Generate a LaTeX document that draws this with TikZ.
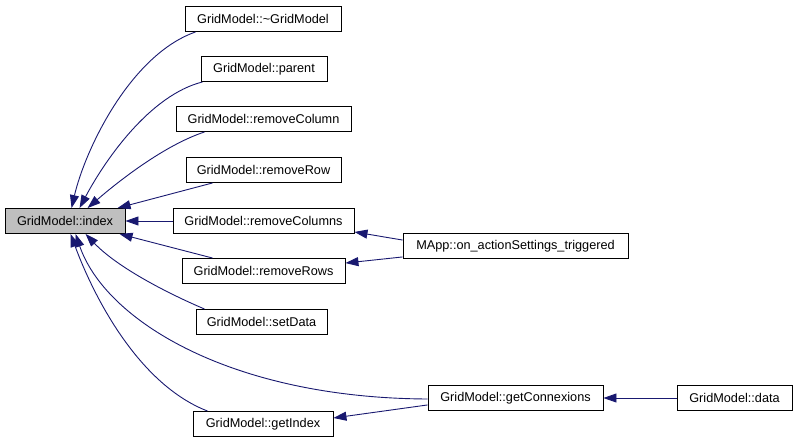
\documentclass[tikz,border=0pt]{standalone}
\usepackage{fontspec}
\setmainfont{Liberation Sans}
\usetikzlibrary{arrows.meta,calc}
\definecolor{edgeblue}{HTML}{191970}
\definecolor{idxgray}{HTML}{BFBFBF}
\tikzset{
  fn/.style={draw=black, line width=0.9pt, fill=white, minimum height=25pt, inner sep=0pt,
    font=\fontsize{12.7}{14}\selectfont, text=black, anchor=center},
  edge/.style={draw=edgeblue, line width=0.9pt, -{Triangle[length=13pt,width=9pt]}, color=edgeblue},
}
\begin{document}
\begin{tikzpicture}[x=1pt,y=-1pt]
\useasboundingbox (0,0) rectangle (797,443);
\node[fn, fill=idxgray, minimum width=120pt] (idx) at (65,221) {GridModel::index};
\node[fn, minimum width=156pt] (dtor) at (263,19) {GridModel::\textasciitilde GridModel};
\node[fn, minimum width=126pt] (parent) at (264,69) {GridModel::parent};
\node[fn, minimum width=175pt] (rmcol) at (263.5,119) {GridModel::removeColumn};
\node[fn, minimum width=155pt] (rmrow) at (263.5,170) {GridModel::removeRow};
\node[fn, minimum width=181pt] (rmcols) at (263.5,221) {GridModel::removeColumns};
\node[fn, minimum width=163pt] (rmrows) at (263.5,271) {GridModel::removeRows};
\node[fn, minimum width=131pt] (setdata) at (261.5,322) {GridModel::setData};
\node[fn, minimum width=140pt] (getidx) at (263,424) {GridModel::getIndex};
\node[fn, minimum width=175pt] (getconn) at (515.5,398) {GridModel::getConnexions};
\node[fn, minimum width=115pt] (data) at (734.5,398) {GridModel::data};
\node[fn, minimum width=225pt] (mapp) at (515.5,246) {MApp::on\_actionSettings\_triggered};

\draw[edge] ($(dtor.south west)+(11,0)$) .. controls (130,55) and (85,150) .. ($(idx.north west)+(67,0)$);
\draw[edge] ($(parent.south west)+(2,0)$) .. controls (150,95) and (105,160) .. ($(idx.north west)+(75,0)$);
\draw[edge] ($(rmcol.south west)+(29,0)$) .. controls (165,145) and (120,180) .. ($(idx.north west)+(83,0)$);
\draw[edge] ($(rmrow.south west)+(27,0)$) -- ($(idx.north west)+(113,0)$);
\draw[edge] (rmcols.west) -- (idx.east);
\draw[edge] ($(rmrows.north west)+(31,0)$) -- ($(idx.south west)+(115,0)$);
\draw[edge] ($(setdata.north west)+(9,0)$) .. controls (160,290) and (115,265) .. ($(idx.south west)+(81,0)$);
\draw[edge] ($(getidx.north west)+(15,0)$) .. controls (140,385) and (95,300) .. ($(idx.south west)+(66,0)$);
\draw[edge] ($(getconn.west)+(0,1)$) .. controls (230,398) and (105,320) .. ($(idx.south west)+(71,0)$);
\draw[edge] ($(mapp.north west)+(0,7)$) -- ($(rmcols.south east)+(0,-2)$);
\draw[edge] ($(mapp.south west)+(0,-2)$) -- ($(rmrows.north east)+(0,5)$);
\draw[edge] ($(getconn.south west)+(0,-6)$) -- ($(getidx.east)+(0,-6)$);
\draw[edge] (data.west) -- (getconn.east);
\end{tikzpicture}
\end{document}
